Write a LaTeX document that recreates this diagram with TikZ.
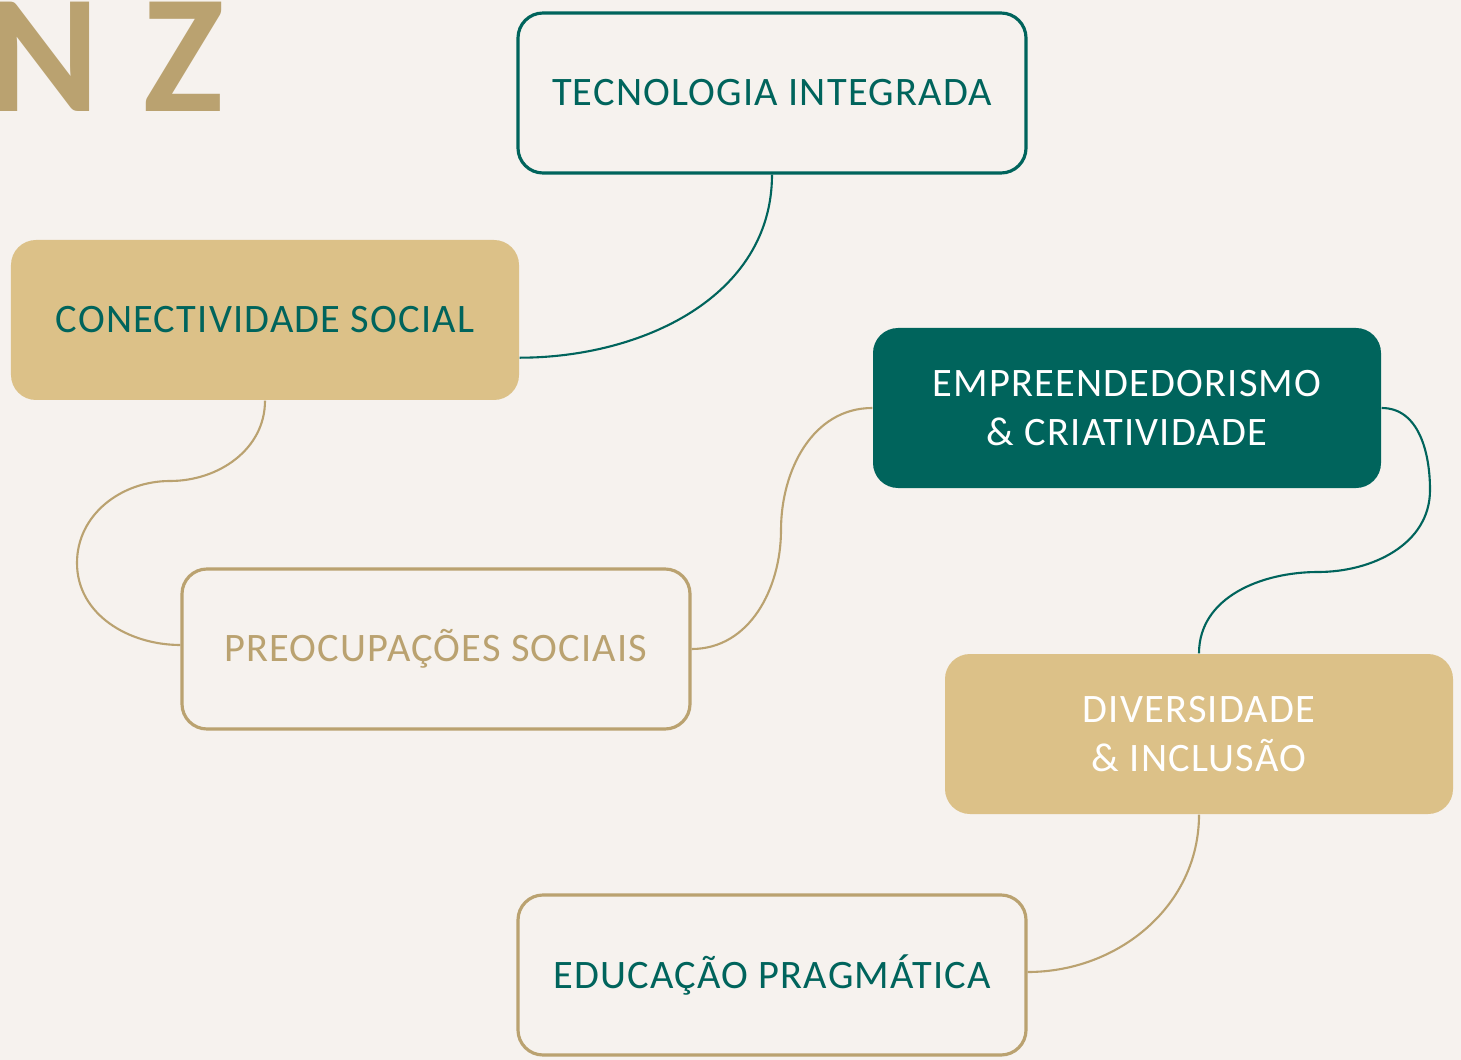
\documentclass[tikz,border=0pt]{standalone}
\usepackage{fontspec}
\setmainfont{Carlito}[LetterSpace=3]
\usetikzlibrary{calc}
\definecolor{paper}{RGB}{246,242,238}
\definecolor{deepteal}{RGB}{0,100,92}
\definecolor{sand}{RGB}{220,193,136}
\definecolor{sandline}{RGB}{186,162,112}
\begin{document}
\begin{tikzpicture}[box/.style = {rounded corners = 0.25cm, minimum width = 5.08cm, minimum height = 1.6cm, align = center, inner sep = 0pt, font = \fontsize{11.5}{14.2}\selectfont}, ob/.style = {box, draw, line width = 0.9pt, fill = paper}, c/.style = {line width = 0.6pt}]
      \fill [paper] (0, 0) rectangle (14.61, -10.6);
      \useasboundingbox (0, 0) rectangle (14.61, -10.6);

      \node [anchor = base west, inner sep = 0pt, text = sandline, font = \fontsize{48}{48}\selectfont\bfseries] (nz) at (-0.12, -1.12) {N Z};

      \node [ob, draw = deepteal, text = deepteal] (ti) at (7.72, -0.93) {TECNOLOGIA INTEGRADA};
      \node [box, fill = sand, text = deepteal] (cs) at (2.65, -3.2) {CONECTIVIDADE SOCIAL};
      \node [box, fill = deepteal, text = white] (em) at (11.27, -4.08) {EMPREENDEDORISMO\\\& CRIATIVIDADE};
      \node [ob, draw = sandline, text = sandline] (pc) at (4.36, -6.49) {PREOCUPAÇÕES SOCIAIS};
      \node [box, fill = sand, text = white] (dv) at (11.99, -7.34) {DIVERSIDADE\\\& INCLUSÃO};
      \node [ob, draw = sandline, text = deepteal] (ed) at (7.72, -9.75) {EDUCAÇÃO PRAGMÁTICA};

      \coordinate (p1) at (1.7, -4.81);
      \coordinate (p2) at (0.77, -5.63);
      \coordinate (p3) at (7.81, -5.3);
      \coordinate (p4) at (14.3, -4.9);
      \coordinate (p5) at (13.18, -5.72);

      \draw [c, deepteal] (ti.south) to [out = -90, in = 0] ($ (cs.south east) + (0, 0.43) $);
      \draw [c, sandline] (cs.south) to [out = -90, in = 0] (p1) to [out = 180, in = 90] (p2) to [out = -90, in = 180] ($ (pc.west) + (0, 0.04) $);
      \draw [c, sandline] (pc.east) to [out = 0, in = -90] (p3) to [out = 90, in = 180] (em.west);
      \draw [c, deepteal] (em.east) to [out = 0, in = 90] (p4) to [out = -90, in = 0] (p5) to [out = 180, in = 90] (dv.north);
      \draw [c, sandline] (dv.south) to [out = -90, in = 0] ($ (ed.east) + (0, 0.03) $);
    \end{tikzpicture}
\end{document}
